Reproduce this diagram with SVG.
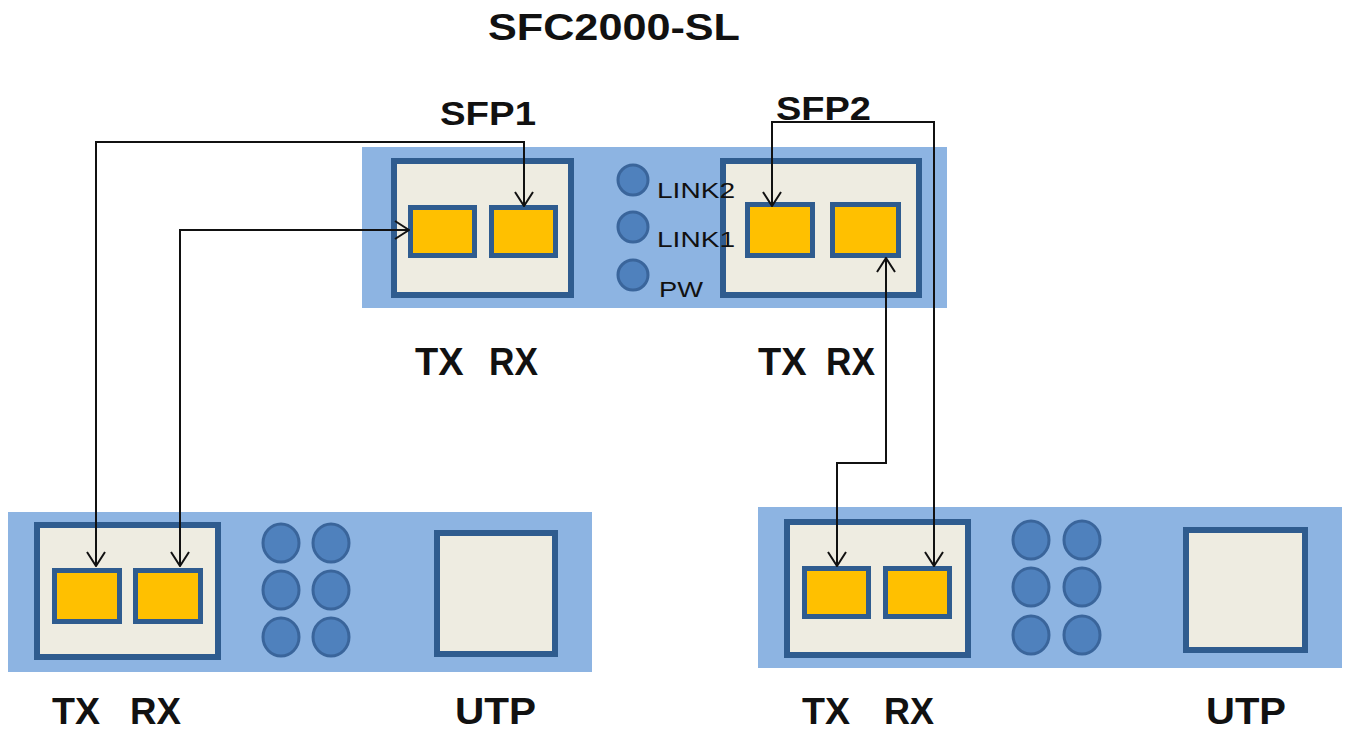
<svg xmlns="http://www.w3.org/2000/svg" width="1349" height="733" viewBox="0 0 1349 733">
<style>
.bg{fill:#8DB4E2;}
.box{fill:#EEECE1;stroke:#2F5C8F;stroke-width:6;}
.port{fill:#FFC000;stroke:#2F5C8F;stroke-width:5;}
.led{fill:#4F81BD;stroke:#3A659B;stroke-width:3;}
.lbl{font-family:"Liberation Sans",Arial,sans-serif;font-weight:bold;fill:#111;}
.small{font-family:"Liberation Sans",Arial,sans-serif;font-size:22px;fill:#111;}
.wire{fill:none;stroke:#111;stroke-width:2;}
</style>
<defs>
<marker id="arr" viewBox="0 0 16 20" refX="15" refY="10" markerWidth="16" markerHeight="20" markerUnits="userSpaceOnUse" orient="auto-start-reverse">
<path d="M1,1 L15,10 L1,19" fill="none" stroke="#111" stroke-width="2"/>
</marker>
</defs>
<rect width="1349" height="733" fill="#fff"/>
<text class="lbl" x="488" y="40" font-size="37" textLength="252" lengthAdjust="spacingAndGlyphs">SFC2000-SL</text>

<g id="sfc2000">
<rect class="bg" x="362" y="147" width="585" height="161"/>
<g id="sfp1">
<rect class="box" x="394" y="161" width="177" height="134"/>
<rect class="port" x="410.5" y="207.5" width="64" height="48"/>
<rect class="port" x="491.5" y="207.5" width="64" height="48"/>
</g>
<g id="sfp2">
<rect class="box" x="723" y="161" width="196" height="134"/>
<rect class="port" x="747.5" y="204.5" width="65" height="51"/>
<rect class="port" x="832.5" y="204.5" width="66" height="51"/>
</g>
<g id="leds">
<circle class="led" cx="633" cy="180" r="15"/>
<circle class="led" cx="633" cy="227" r="15"/>
<circle class="led" cx="633" cy="275" r="15"/>
<text class="small" x="657" y="198" textLength="78" lengthAdjust="spacingAndGlyphs">LINK2</text>
<text class="small" x="657" y="247" textLength="78" lengthAdjust="spacingAndGlyphs">LINK1</text>
<text class="small" x="659" y="297" textLength="44" lengthAdjust="spacingAndGlyphs">PW</text>
</g>
<text class="lbl" x="440" y="125" font-size="33" textLength="96" lengthAdjust="spacingAndGlyphs">SFP1</text>
<text class="lbl" x="776" y="120" font-size="33" textLength="95" lengthAdjust="spacingAndGlyphs">SFP2</text>
<text class="lbl" x="415" y="375" font-size="38">TX</text>
<text class="lbl" x="489" y="375" font-size="38" textLength="49" lengthAdjust="spacingAndGlyphs">RX</text>
<text class="lbl" x="758" y="375" font-size="38">TX</text>
<text class="lbl" x="826" y="375" font-size="38" textLength="49" lengthAdjust="spacingAndGlyphs">RX</text>
</g>

<g id="converter-left">
<rect class="bg" x="8" y="512" width="584" height="160"/>
<rect class="box" x="37" y="525" width="181" height="132"/>
<rect class="port" x="54.5" y="570.5" width="65" height="51"/>
<rect class="port" x="135.5" y="570.5" width="65" height="51"/>
<ellipse class="led" cx="281" cy="543" rx="18" ry="19"/>
<ellipse class="led" cx="331" cy="543" rx="18" ry="19"/>
<ellipse class="led" cx="281" cy="590" rx="18" ry="19"/>
<ellipse class="led" cx="331" cy="590" rx="18" ry="19"/>
<ellipse class="led" cx="281" cy="637" rx="18" ry="19"/>
<ellipse class="led" cx="331" cy="637" rx="18" ry="19"/>
<rect class="box" x="437" y="533" width="118" height="121"/>
<text class="lbl" x="52" y="724" font-size="37" textLength="48" lengthAdjust="spacingAndGlyphs">TX</text>
<text class="lbl" x="130" y="724" font-size="37" textLength="51" lengthAdjust="spacingAndGlyphs">RX</text>
<text class="lbl" x="455" y="724" font-size="37" textLength="81" lengthAdjust="spacingAndGlyphs">UTP</text>
</g>

<g id="converter-right">
<rect class="bg" x="758" y="507" width="584" height="161"/>
<rect class="box" x="787" y="522" width="181" height="133"/>
<rect class="port" x="804.5" y="568.5" width="64" height="48"/>
<rect class="port" x="885.5" y="568.5" width="64" height="48"/>
<ellipse class="led" cx="1031" cy="540" rx="18" ry="19"/>
<ellipse class="led" cx="1082" cy="540" rx="18" ry="19"/>
<ellipse class="led" cx="1031" cy="587" rx="18" ry="19"/>
<ellipse class="led" cx="1082" cy="587" rx="18" ry="19"/>
<ellipse class="led" cx="1031" cy="635" rx="18" ry="19"/>
<ellipse class="led" cx="1082" cy="635" rx="18" ry="19"/>
<rect class="box" x="1186" y="530" width="119" height="120"/>
<text class="lbl" x="802" y="724" font-size="37" textLength="48" lengthAdjust="spacingAndGlyphs">TX</text>
<text class="lbl" x="884" y="724" font-size="37" textLength="50" lengthAdjust="spacingAndGlyphs">RX</text>
<text class="lbl" x="1206" y="724" font-size="37" textLength="80" lengthAdjust="spacingAndGlyphs">UTP</text>
</g>

<g id="connectors">
<path class="wire" d="M96,566 L96,142 L524,142 L524,206" marker-start="url(#arr)" marker-end="url(#arr)"/>
<path class="wire" d="M180,566 L180,230 L409,230" marker-start="url(#arr)" marker-end="url(#arr)"/>
<path class="wire" d="M772,206 L772,122 L934,122 L934,566" marker-start="url(#arr)" marker-end="url(#arr)"/>
<path class="wire" d="M886,258 L886,463 L837,463 L837,566" marker-start="url(#arr)" marker-end="url(#arr)"/>
</g>
</svg>
